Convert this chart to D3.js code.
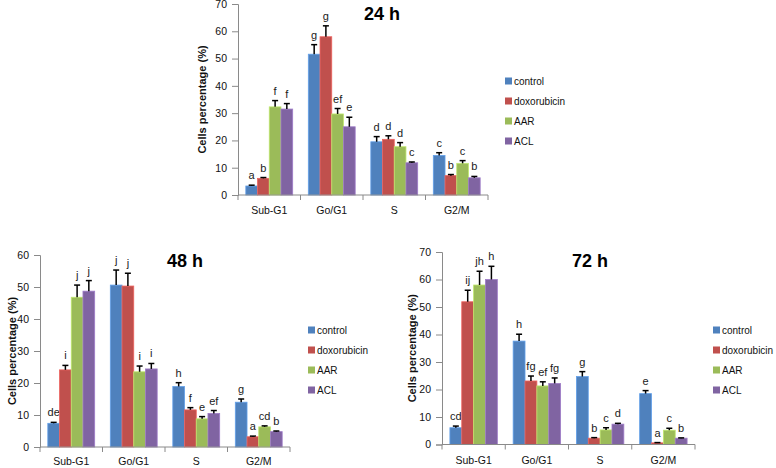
<!DOCTYPE html>
<html><head><meta charset="utf-8">
<script src="https://cdn.jsdelivr.net/npm/d3@7"></script>
<style>
body{margin:0;background:#fff;}
svg{display:block;font-family:"Liberation Sans",Arial,Helvetica,sans-serif;}
</style></head>
<body>
<svg id="c" width="776" height="468"></svg>
<script>
// ---- data ----
const categories = ["Sub-G1", "Go/G1", "S", "G2/M"];
const seriesNames = ["control", "doxorubicin", "AAR", "ACL"];
const seriesColors = ["#4F81BD", "#C0504D", "#9BBB59", "#8064A2"];
const ticks70 = [0, 10, 20, 30, 40, 50, 60, 70];
const ticks60 = [0, 10, 20, 30, 40, 50, 60];

// rows = categories, columns = series (control, doxorubicin, AAR, ACL)
const values24 = [[3.3, 6.1, 32.3, 31.5], [51.6, 58.0, 29.7, 25.0], [19.5, 20.4, 17.7, 11.8], [14.5, 7.1, 11.6, 6.3]];
const errors24 = [[0.3, 0.3, 2.3, 2.0], [3.5, 4.0, 2.0, 3.5], [1.9, 1.3, 1.5, 0.3], [1.0, 0.4, 1.0, 0.5]];
const letters24 = [["a", "b", "f", "f"], ["g", "g", "ef", "e"], ["d", "d", "d", "c"], ["c", "b", "c", "b"]];

const values48 = [[7.4, 24.1, 46.8, 48.7], [50.6, 50.3, 23.5, 24.4], [18.9, 11.6, 8.8, 10.5], [14.0, 3.2, 6.3, 4.8]];
const errors48 = [[0.3, 1.4, 3.8, 3.3], [4.7, 4.0, 1.8, 1.7], [1.2, 0.7, 0.7, 0.9], [1.0, 0.2, 0.3, 0.2]];
const letters48 = [["de", "i", "j", "j"], ["j", "j", "i", "i"], ["h", "f", "e", "ef"], ["g", "a", "cd", "b"]];

const values72 = [[6.1, 51.9, 58.0, 60.0], [37.6, 23.1, 21.3, 22.2], [24.7, 2.3, 5.3, 7.4], [18.5, 0.6, 5.2, 2.3]];
const errors72 = [[0.6, 4.2, 5.0, 4.8], [2.5, 1.8, 1.5, 2.0], [1.8, 0.2, 0.8, 0.3], [1.1, 0.1, 0.7, 0.1]];
const letters72 = [["cd", "ij", "jh", "h"], ["h", "fg", "ef", "fg"], ["g", "b", "c", "d"], ["e", "a", "c", "b"]];

const titles = ["24 h", "48 h", "72 h"];
const yTitle = "Cells percentage (%)";

// ---- drawing ----
const svg = d3.select("#c");
const axisColor = "#8a8a8a";
const lighter = c => d3.color(c).brighter(0.6).formatHex();

function panel(p) {
  const g = svg.append("g");
  const y = d3.scaleLinear().domain([0, p.yMax]).range([p.y0, p.yTop]);
  const x = d3.scaleBand().domain(categories).range([p.x0, p.x1]).paddingInner(0).paddingOuter(0);
  const groupW = x.bandwidth() * 0.75;
  const xs = d3.scaleBand().domain(seriesNames).range([0, groupW]).padding(0);
  const off = (x.bandwidth() - groupW) / 2;

  // bars
  categories.forEach((cat, ci) => {
    seriesNames.forEach((s, si) => {
      const v = p.values[ci][si], e = p.errors[ci][si];
      const bx = x(cat) + off + xs(s), bw = xs.bandwidth();
      g.append("rect")
        .attr("x", bx).attr("y", y(v))
        .attr("width", bw).attr("height", y(0) - y(v))
        .attr("fill", seriesColors[si])
        .attr("stroke", lighter(seriesColors[si])).attr("stroke-width", 0.8);
      const cx = bx + bw / 2, ye = y(v + e);
      g.append("line").attr("x1", cx).attr("x2", cx).attr("y1", y(v)).attr("y2", ye)
        .attr("stroke", "#000").attr("stroke-width", 1.5);
      g.append("line").attr("x1", cx - 3).attr("x2", cx + 3).attr("y1", ye).attr("y2", ye)
        .attr("stroke", "#000").attr("stroke-width", 1.5);
      g.append("text").attr("x", cx).attr("y", ye - 6)
        .attr("text-anchor", "middle").attr("font-size", 11).attr("fill", "#1a1a1a")
        .text(p.letters[ci][si]);
    });
  });

  // y axis
  const ya = g.append("g").attr("transform", `translate(${p.x0},0)`)
    .call(d3.axisLeft(y).tickValues(p.ticks).tickSize(6).tickPadding(5).tickFormat(d3.format("d")));
  ya.select(".domain").attr("stroke", axisColor);
  ya.selectAll(".tick line").attr("stroke", axisColor);
  ya.selectAll("text").attr("font-size", 10.5).attr("fill", "#111").attr("font-family", "Liberation Sans, Arial, sans-serif");

  // x axis
  g.append("line").attr("x1", p.x0).attr("x2", p.x1).attr("y1", p.y0).attr("y2", p.y0).attr("stroke", axisColor);
  const bounds = categories.map(c => x(c)).concat([p.x1]);
  bounds.forEach(b => g.append("line").attr("x1", b).attr("x2", b).attr("y1", p.y0).attr("y2", p.y0 + 5).attr("stroke", axisColor));
  categories.forEach(c => g.append("text").attr("x", x(c) + x.bandwidth() / 2).attr("y", p.catY)
    .attr("text-anchor", "middle").attr("font-size", 10.5).attr("fill", "#111").text(c));

  // y title
  g.append("text").attr("transform", `translate(${p.yTitleX},${(p.y0 + p.yTop) / 2}) rotate(-90)`)
    .attr("text-anchor", "middle").attr("font-size", 11).attr("font-weight", "bold").attr("fill", "#111")
    .text(yTitle);

  // title
  g.append("text").attr("x", p.titleX).attr("y", p.titleY).attr("text-anchor", "middle")
    .attr("font-size", 18).attr("font-weight", "bold").attr("fill", "#000").text(p.title);

  // legend
  seriesNames.forEach((s, i) => {
    const ly = p.legY + i * 20;
    g.append("rect").attr("x", p.legX).attr("y", ly - 3.5).attr("width", 7).attr("height", 7).attr("fill", seriesColors[i]);
    g.append("text").attr("x", p.legX + 9).attr("y", ly + 4).attr("font-size", 10).attr("fill", "#111").text(s);
  });
}

panel({ values: values24, errors: errors24, letters: letters24, title: titles[0], yMax: 70, ticks: ticks70,
  x0: 238, x1: 488, y0: 195, yTop: 4, catY: 214, yTitleX: 206, titleX: 382, titleY: 20, legX: 505, legY: 81 });
panel({ values: values48, errors: errors48, letters: letters48, title: titles[1], yMax: 60, ticks: ticks60,
  x0: 40, x1: 290, y0: 447, yTop: 255, catY: 465, yTitleX: 16, titleX: 185, titleY: 267, legX: 308, legY: 330 });
panel({ values: values72, errors: errors72, letters: letters72, title: titles[2], yMax: 70, ticks: ticks70,
  x0: 442, x1: 695, y0: 444.5, yTop: 252, catY: 464, yTitleX: 416, titleX: 590, titleY: 267, legX: 713, legY: 330 });
</script>
</body></html>
